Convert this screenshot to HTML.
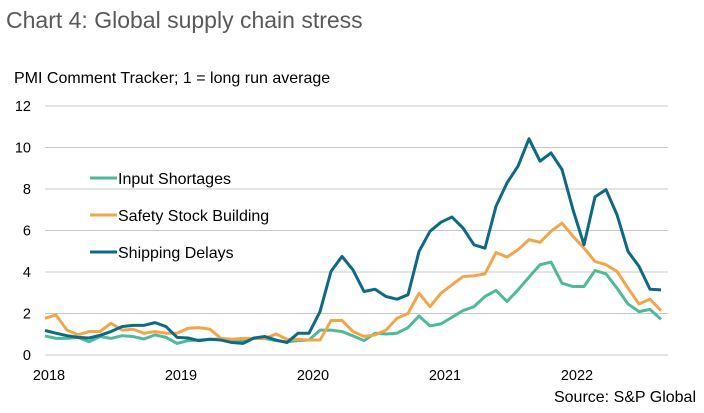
<!DOCTYPE html>
<html><head><meta charset="utf-8"><style>
body{margin:0;background:#fff;font-family:"Liberation Sans",sans-serif}
svg text{font-family:"Liberation Sans",sans-serif}
</style></head><body>
<svg width="704" height="408">
<text x="6" y="28" font-size="23" fill="#595959">Chart 4: Global supply chain stress</text>
<text x="14" y="83" font-size="16" fill="#000">PMI Comment Tracker; 1 = long run average</text>
<g id="grid"></g><g id="lines"></g>
<g>
<line x1="90" y1="178" x2="117" y2="178" stroke="#4fb99b" stroke-width="3"/>
<text x="118" y="184" font-size="16">Input Shortages</text>
<line x1="90" y1="215" x2="117" y2="215" stroke="#f3a54a" stroke-width="3"/>
<text x="118" y="221" font-size="16">Safety Stock Building</text>
<line x1="90" y1="252" x2="117" y2="252" stroke="#0e6a84" stroke-width="3"/>
<text x="118" y="258" font-size="16">Shipping Delays</text>
</g>
<text x="696" y="402" font-size="16" text-anchor="end">Source: S&amp;P Global</text>
</svg>
<script>
const yTicks=[0,2,4,6,8,10,12];
const yearLabels=["2018","2019","2020","2021","2022"];
const inputShortages=[0.92,0.8,0.8,0.85,0.64,0.89,0.8,0.93,0.89,0.77,0.97,0.85,0.56,0.69,0.72,0.76,0.76,0.64,0.68,0.8,0.8,0.69,0.64,0.69,0.72,1.2,1.2,1.13,0.92,0.69,1.05,1.01,1.05,1.32,1.88,1.4,1.5,1.82,2.14,2.33,2.82,3.11,2.58,3.14,3.75,4.35,4.48,3.46,3.3,3.3,4.07,3.91,3.22,2.46,2.09,2.2,1.72];
const safetyStock=[1.77,1.93,1.2,0.97,1.13,1.13,1.53,1.2,1.24,1.05,1.13,1.05,1.05,1.29,1.32,1.24,0.8,0.76,0.8,0.8,0.8,1.01,0.76,0.76,0.72,0.72,1.66,1.66,1.13,0.89,0.97,1.2,1.77,2.0,2.98,2.33,2.98,3.38,3.78,3.82,3.91,4.94,4.72,5.07,5.56,5.43,5.96,6.36,5.72,5.15,4.51,4.35,4.03,3.22,2.46,2.69,2.14];
const shippingDelays=[1.18,1.05,0.93,0.85,0.82,0.95,1.13,1.37,1.43,1.43,1.56,1.37,0.85,0.82,0.69,0.76,0.72,0.6,0.56,0.82,0.89,0.72,0.6,1.05,1.05,2.09,4.03,4.75,4.1,3.06,3.17,2.82,2.69,2.9,4.99,5.96,6.4,6.65,6.12,5.31,5.15,7.17,8.29,9.1,10.42,9.34,9.74,8.94,7.0,5.31,7.62,7.97,6.76,4.99,4.27,3.17,3.14];
const NS="http://www.w3.org/2000/svg";
const X=i=>45+11*i, Y=v=>355-v*20.75;
const grid=document.getElementById('grid'), lines=document.getElementById('lines');
yTicks.forEach(t=>{
 const l=document.createElementNS(NS,'line');
 l.setAttribute('x1',45);l.setAttribute('x2',668);l.setAttribute('y1',Y(t));l.setAttribute('y2',Y(t));
 l.setAttribute('stroke','#c8c8c8');l.setAttribute('stroke-width','1');
 
 
 grid.appendChild(l);
 const tx=document.createElementNS(NS,'text');
 tx.setAttribute('x',31);tx.setAttribute('y',Y(t)+5);tx.setAttribute('text-anchor','end');tx.setAttribute('font-size','14.5');
 tx.textContent=t;
 
 
 grid.appendChild(tx);
});
yearLabels.forEach((y,k)=>{
 const tx=document.createElementNS(NS,'text');
 tx.setAttribute('x',X(12*k)+4);tx.setAttribute('y',380);tx.setAttribute('text-anchor','middle');tx.setAttribute('font-size','14.5');
 tx.textContent=y;
 
 
 grid.appendChild(tx);
});
[[inputShortages,'#4fb99b','line-input-shortages'],[safetyStock,'#f3a54a','line-safety-stock'],[shippingDelays,'#0e6a84','line-shipping-delays']].forEach(([d,c,n])=>{
 const p=document.createElementNS(NS,'polyline');
 p.setAttribute('points',d.map((v,i)=>X(i)+','+Y(v)).join(' '));
 p.setAttribute('fill','none');p.setAttribute('stroke',c);p.setAttribute('stroke-width','3');p.setAttribute('stroke-linejoin','round');
 
 
 lines.appendChild(p);
});
</script>
</body></html>
